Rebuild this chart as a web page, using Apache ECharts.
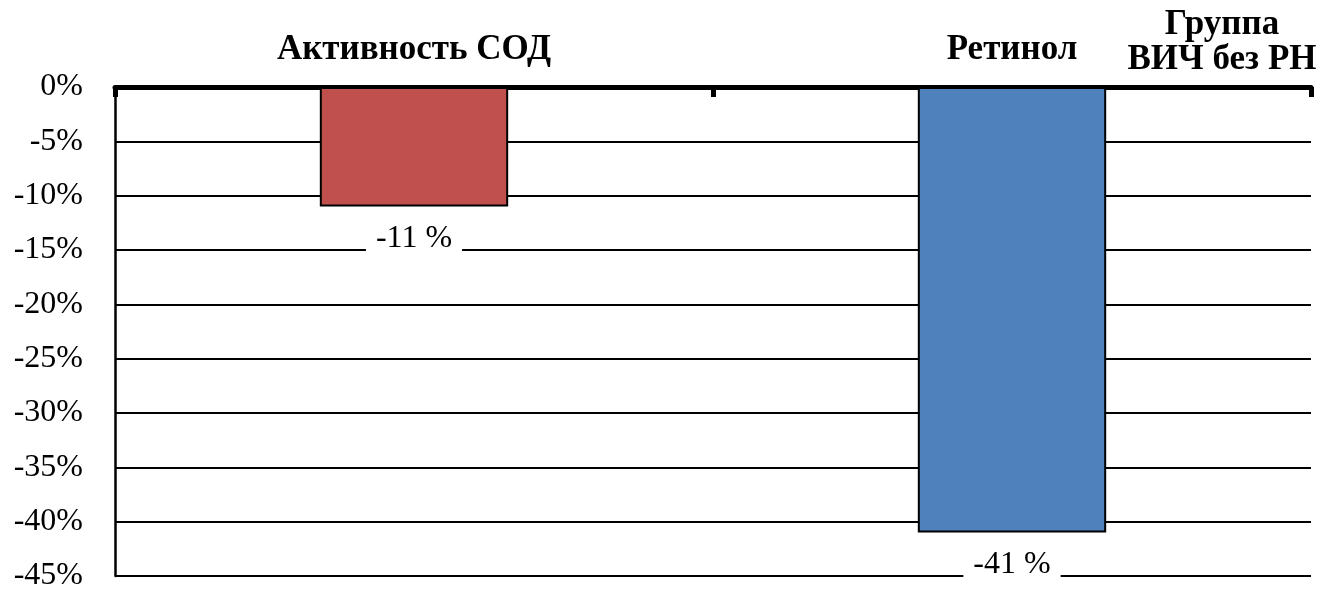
<!DOCTYPE html>
<html>
<head>
<meta charset="utf-8">
<script src="https://cdn.jsdelivr.net/npm/echarts@6/dist/echarts.min.js"></script>
<style>
  html, body { margin: 0; padding: 0; background: #fff; }
  #chart { width: 1325px; height: 592px; }
</style>
</head>
<body>
<div id="chart"></div>
<script>
// Relative change per indicator, percent
const categories = ['Активность СОД', 'Ретинол'];
const changes = [-11, -41];
const barColors = ['#C0504D', '#4F81BD'];
const groupName = 'Группа\nВИЧ без РН';

const serif = '"Liberation Serif", "Times New Roman", serif';

const chart = echarts.init(document.getElementById('chart'), null, { renderer: 'canvas' });

chart.setOption({
  animation: false,
  backgroundColor: '#fff',
  title: {
    text: groupName,
    left: 1217,
    top: 2,
    textAlign: 'center',
    textStyle: {
      fontFamily: serif,
      fontWeight: 'bold',
      fontSize: 35,
      lineHeight: 35,
      color: '#000'
    }
  },
  grid: { left: 115, right: 14, top: 87, bottom: 12, containLabel: false },
  xAxis: {
    type: 'category',
    position: 'top',
    data: categories,
    axisLine: { show: true, lineStyle: { color: '#000', width: 5 } },
    axisTick: { show: true, inside: true, length: 10, lineStyle: { color: '#000', width: 5 } },
    axisLabel: {
      margin: 20,
      fontFamily: serif,
      fontWeight: 'bold',
      fontSize: 35,
      color: '#000'
    },
    splitLine: { show: false }
  },
  yAxis: {
    type: 'value',
    min: -45,
    max: 0,
    interval: 5,
    axisLine: { show: true, lineStyle: { color: '#000', width: 2.5 } },
    axisTick: { show: false },
    axisLabel: {
      margin: 32,
      fontFamily: serif,
      fontSize: 32,
      color: '#000',
      formatter: v => v + '%'
    },
    splitLine: { show: true, lineStyle: { color: '#000', width: 2 } }
  },
  series: [{
    type: 'bar',
    barWidth: '31.5%',
    data: changes.map((v, i) => ({
      value: v,
      itemStyle: { color: barColors[i] }
    })),
    itemStyle: { borderColor: '#000', borderWidth: 2 },
    label: {
      show: true,
      position: 'bottom',
      distance: 12,
      formatter: p => p.value + ' %',
      fontFamily: serif,
      fontSize: 32,
      lineHeight: 32,
      color: '#000',
      backgroundColor: '#fff',
      padding: [4, 10]
    }
  }]
});
</script>
</body>
</html>
